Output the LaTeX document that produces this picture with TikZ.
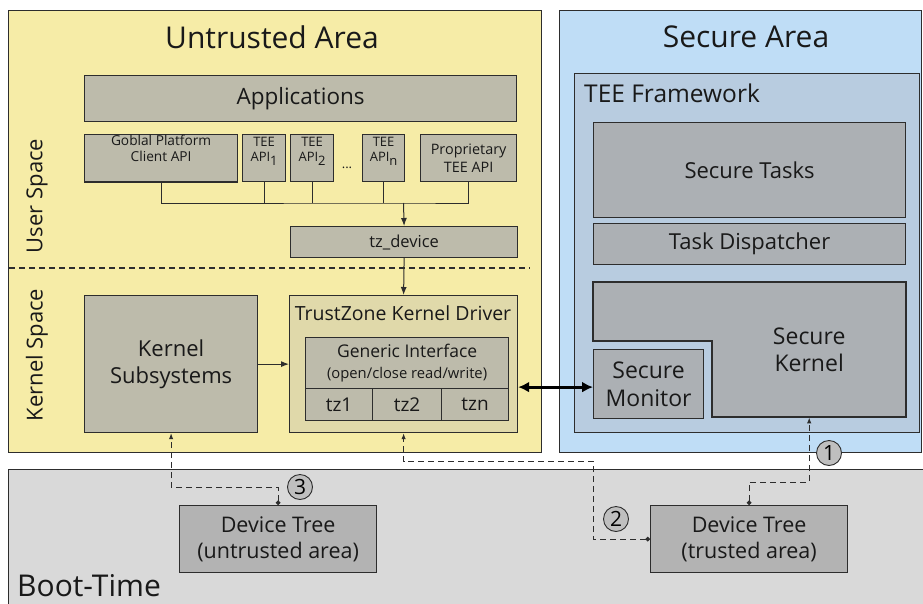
\documentclass[tikz,border=0pt]{standalone}
\usepackage{fontspec}
\setmainfont{Open Sans}
\usetikzlibrary{arrows.meta}

\definecolor{untrustfill}{RGB}{246,236,167}
\definecolor{securefill}{RGB}{191,221,246}
\definecolor{teefill}{RGB}{184,204,224}
\definecolor{bootfill}{RGB}{217,217,217}
\definecolor{tanfill}{RGB}{189,187,171}
\definecolor{drvfill}{RGB}{224,217,170}
\definecolor{sgrey}{RGB}{172,176,180}
\definecolor{dtfill}{RGB}{179,179,179}
\definecolor{edge}{RGB}{45,45,45}

\newcommand{\apisub}[1]{\raisebox{-0.6ex}{#1}}
\newcommand{\fs}[1]{\fontsize{#1}{1.2\dimexpr#1pt\relax}\selectfont}

\begin{document}
\begin{tikzpicture}[x=1pt, y=-1pt,
box/.style = {shape=rectangle, draw=edge, line width=1.2pt, align=center,
	inner sep=0pt, anchor=north west, text=black!90},
dims/.style 2 args = {minimum width=#1, minimum height=#2},
areabox/.style = {box, fill=#1},
tanbox/.style = {box, fill=tanfill},
greybox/.style = {box, fill=sgrey},
dtbox/.style = {box, fill=dtfill, font=\fs{21.5}},
txt/.style = {align=center, inner sep=0pt, text=black!90},
steplabel/.style = {circle, draw=edge, line width=0.9pt, fill=black!25,
	minimum size=25pt, inner sep=0pt, font=\fs{21}},
wire/.style = {draw=edge, line width=1pt},
bootlink/.style = {draw=edge, line width=1pt, dash pattern=on 6pt off 4pt,
	{Circle[length=4.5pt]}-{Latex[length=6pt,width=4.5pt]}}]
\useasboundingbox (0,0) rectangle (923,603);

% the three areas
\node[areabox=bootfill, dims={930}{150}] (boot) at (8,469) {};
\node[areabox=untrustfill, dims={533}{442}] (untrusted) at (8,10) {};
\node[areabox=securefill, dims={362}{442}] (secure) at (559,10) {};
\node[txt, font=\fs{30}] (untitle) at (272,37) {Untrusted Area};
\node[txt, font=\fs{30}] (sectitle) at (746,37) {Secure Area};
\node[txt, font=\fs{30}, anchor=base west] (boottitle) at (17,596) {Boot-Time};
\node[txt, font=\fs{22}, rotate=90] (userlbl) at (37,196) {User Space};
\node[txt, font=\fs{22}, rotate=90] (kernlbl) at (37,355) {Kernel Space};
\draw[wire, line width=1.2pt, dash pattern=on 6pt off 4pt] (9,268) -- (530,268);

% user space
\node[tanbox, dims={432}{46}, font=\fs{22.5}] (apps) at (84,75) {Applications};
\node[tanbox, dims={153}{47}, font=\fs{13.7}] (gpapi) at (84,134) {Goblal Platform\\Client API\\[4pt]};
\node[tanbox, dims={43}{47}, font=\fs{13}] (tee1) at (242,134) {TEE\\API\apisub{1}\\[2pt]};
\node[tanbox, dims={43}{47}, font=\fs{13}] (tee2) at (290,134) {TEE\\API\apisub{2}\\[2pt]};
\node[txt, font=\fs{13}] (dots) at (347,168) {...};
\node[tanbox, dims={42}{47}, font=\fs{13}] (teen) at (362,134) {TEE\\API\apisub{n}\\[2pt]};
\node[tanbox, dims={96}{47}, font=\fs{14.4}] (prop) at (420,134) {Proprietary\\TEE API};
\node[tanbox, dims={227}{31}, font=\fs{16.5}] (tzdev) at (290,226) {tz\_device};
\coordinate (bus) at (403.5,203);

% kernel space
\node[tanbox, dims={173}{137}, font=\fs{22}] (ksub) at (84,295) {Kernel\\Subsystems};
\node[box, fill=drvfill, dims={228}{137}] (tzdrv) at (289,295) {};
\node[txt, font=\fs{19.5}] (drvtitle) at (403,313) {TrustZone Kernel Driver};
\node[tanbox, dims={203}{51}, font=\fs{17.5}] (generic) at (305,337)
	{Generic Interface\\[0pt]{\fs{14.8}(open/close read/write)}};
\node[tanbox, dims={67}{32}, font=\fs{19}] (tz1) at (305,388) {tz1};
\node[tanbox, dims={69}{32}, font=\fs{19}] (tz2) at (372,388) {tz2};
\node[tanbox, dims={67}{32}, font=\fs{19}] (tzn) at (441,388) {tzn};

% secure world
\node[box, fill=teefill, dims={345}{359}] (teefw) at (574,73) {};
\node[txt, font=\fs{24.5}, anchor=west] (fwtitle) at (584,93) {TEE Framework};
\node[greybox, dims={312}{95}, font=\fs{22}] (stasks) at (593,122) {Secure Tasks};
\node[greybox, dims={312}{41}, font=\fs{22}] (tdisp) at (593,223) {Task Dispatcher};
\draw[draw=edge, line width=1.2pt, fill=sgrey]
	(593,282) -- (906,282) -- (906,417) -- (712,417) -- (712,341) -- (593,341) -- cycle;
\node[txt, dims={194}{135}, anchor=north west, font=\fs{23}] (skernel) at (712,282) {Secure\\Kernel};
\node[greybox, dims={110}{69}, font=\fs{23}] (smon) at (593,349) {Secure\\Monitor};

% boot-time
\node[dtbox, dims={197}{67}] (dtu) at (179,505) {Device Tree\\(untrusted area)};
\node[dtbox, dims={197}{67}] (dtt) at (650,505) {Device Tree\\(trusted area)};

% connectors
\draw[wire] (gpapi.south) |- (bus) -| (prop.south);
\foreach \n in {tee1,tee2,teen}
	\draw[wire] (\n.south) -- (\n.south |- bus);
\draw[wire, -{Latex[length=8pt,width=6pt]}] (bus) -- (tzdev.north);
\draw[wire, -{Latex[length=8pt,width=6pt]}] (tzdev.south) -- (tzdrv.north);
\draw[wire, -{Latex[length=8pt,width=6pt]}] (ksub) -- (tzdrv);
\draw[draw=black, line width=3pt, {Latex[length=11pt,width=11pt]}-{Latex[length=11pt,width=11pt]}]
	([yshift=-3pt]tzdrv.east |- smon.west) -- ([yshift=-3pt]smon.west);
\draw[bootlink] (dtt.north) -- ++(0,-23) -| (skernel.south);
\draw[bootlink] (dtt.west) -- ++(-57,0) |- ([yshift=-28pt]tzdrv.south) -- (tzdrv.south);
\draw[bootlink] (dtu.north) -- ++(0,-18) -| (ksub.south);
\node[steplabel] (step1) at (829,453) {1};
\node[steplabel] (step2) at (616,519) {2};
\node[steplabel] (step3) at (300,487) {3};
\end{tikzpicture}
\end{document}
